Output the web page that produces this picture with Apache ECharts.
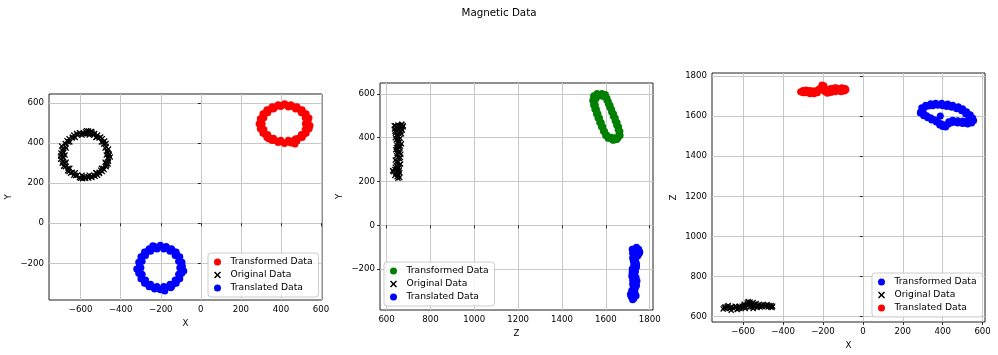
<!DOCTYPE html>
<html>
<head>
<meta charset="utf-8">
<title>Magnetic Data</title>
<script src="https://cdn.jsdelivr.net/npm/echarts@6/dist/echarts.min.js"></script>
<style>
  html, body { margin: 0; padding: 0; background: #fff; }
  #chart { width: 998px; height: 355px; }
</style>
</head>
<body>
<div id="chart"></div>
<script>
// ---- data ----
// panel 1: X (horizontal) vs Y (vertical)
const xyTransformed = [
  [532,500],[540,525],[526,546],[506,566],[480,581],[450,591],[418,596],[386,591],[356,581],[330,566],
  [310,546],[297,522],[291,497],[297,472],[310,449],[330,428],[356,413],[386,403],[418,398],[450,401],
  [480,411],[506,428],[526,449],[541,472],
  [522,497],[521,526],[502,551],[473,570],[437,580],[399,582],[363,570],[334,551],[315,526],[306,497],
  [315,468],[334,443],[363,424],[399,414],[437,414],[473,422],[502,443],[521,468],
  [535,509],[527,532],[512,552],[490,569],[463,581],[433,587],[403,587],[373,581],[346,569],[324,552],
  [309,532],[301,509],[301,485],[309,462],[324,442],[346,425],[373,413],[403,407],[433,407],[463,413],
  [490,425],[512,442],[527,462],[535,485],
  [392,588],[545,488],[470,396],[300,510],[425,590],[340,420]
];
const xyOriginal = [
  [-457,340],[-461,370],[-473,398],[-492,422],[-516,440],[-544,452],[-575,456],[-606,452],[-634,440],[-658,422],
  [-677,398],[-689,370],[-693,340],[-689,310],[-677,282],[-658,258],[-634,240],[-606,228],[-575,224],[-544,228],
  [-516,240],[-492,258],[-473,282],[-461,310],
  [-472,340],[-478,375],[-496,406],[-524,428],[-557,440],[-593,440],[-627,428],[-654,406],[-672,375],[-678,340],
  [-672,305],[-654,274],[-627,252],[-593,240],[-557,240],[-524,252],[-496,274],[-478,305],
  [-466,354],[-473,382],[-488,406],[-508,426],[-533,441],[-561,448],[-589,448],[-617,441],[-642,426],[-662,406],
  [-677,382],[-684,354],[-684,326],[-677,298],[-662,274],[-642,254],[-617,239],[-589,232],[-561,232],[-533,239],
  [-508,254],[-488,274],[-473,298],[-466,326],
  [-565,448],[-550,455],[-540,445],[-585,448],[-560,460],[-462,325],[-468,300],[-700,335],[-580,230],[-520,250],
  [-690,360],[-465,350],[-485,395],[-520,430],[-600,445],[-640,430],[-680,300],[-650,250],[-600,225],[-545,235],
  [-500,265],[-470,290],[-575,445],[-555,450],[-530,448],[-700,320],[-468,360],
  [-452,330],[-458,345],[-480,410],[-500,430],[-545,458],[-570,462],[-620,448],[-668,412],[-695,385],[-698,350],
  [-692,300],[-685,285],[-665,262],[-625,238],[-590,222],[-560,226],[-528,234],[-505,248],[-483,268],[-463,296]
];
const xyTranslated = [
  [-85,-238],[-94,-194],[-105,-167],[-123,-144],[-146,-127],[-173,-116],[-202,-110],[-231,-116],[-258,-127],[-281,-144],
  [-299,-167],[-310,-194],[-316,-230],[-310,-250],[-299,-277],[-281,-300],[-258,-317],[-231,-328],[-202,-332],[-180,-338],
  [-146,-317],[-123,-300],[-105,-277],[-92,-215],
  [-105,-222],[-111,-190],[-128,-161],[-154,-140],[-185,-128],[-219,-128],[-251,-140],[-276,-161],[-293,-190],[-299,-222],
  [-293,-254],[-276,-283],[-251,-304],[-219,-316],[-185,-316],[-154,-304],[-128,-283],[-111,-254],
  [-98,-209],[-105,-183],[-119,-159],[-138,-140],[-162,-127],[-188,-120],[-216,-120],[-242,-127],[-266,-140],[-285,-159],
  [-299,-183],[-306,-209],[-306,-235],[-299,-261],[-285,-285],[-266,-304],[-242,-317],[-216,-324],[-188,-324],[-162,-317],
  [-138,-304],[-119,-285],[-105,-261],[-98,-235],
  [-320,-228],[-95,-250],[-240,-112],[-150,-322]
];

// panel 2: Z (horizontal) vs Y (vertical)
const zyTransformed = [
  [1546,590],[1548,570],[1552,550],[1557,530],[1564,510],[1571,490],[1579,470],[1586,450],[1594,430],[1604,412],
  [1618,398],[1638,390],[1656,400],[1660,418],[1656,438],[1649,458],[1642,478],[1634,498],[1626,518],[1618,538],
  [1611,555],[1604,572],[1597,588],[1582,596],[1565,596],
  [1545,580],[1560,588],[1575,592],[1588,588],[1555,578],[1642,400],[1625,402],[1650,392],[1632,388],
  [1540,570],[1544,550],[1550,530],[1557,510],[1564,490],[1572,470],[1580,450],[1589,430],[1599,410],[1610,398],
  [1665,410],[1664,430],[1658,450],[1651,470],[1643,490],[1635,510],[1626,530],[1619,548],[1611,565],[1605,582],
  [1598,598],[1582,602],[1560,602],[1545,592]
];
const zyOriginal = [
  [640,455],[652,458],[664,455],[675,450],[636,440],[648,445],[660,440],[672,435],[642,425],[655,420],
  [668,418],[650,405],[662,398],[644,390],[657,380],[668,372],[648,365],[660,355],[642,345],[655,335],
  [665,325],[646,318],[658,305],[640,298],[652,288],[664,280],[645,272],[656,262],[638,255],[628,250],
  [650,248],[660,240],[642,235],[655,228],[648,222],[660,218],[652,232],[645,410],[670,462],[635,455],
  [645,450],[658,452],[668,445],[638,430],[652,432],[665,428],[650,412],[640,400],[656,390],[650,375],
  [663,362],[645,355],[652,345],[660,332],[648,328],[652,312],[663,310],[645,290],[658,275],[650,260],
  [640,265],[645,243],[657,250],[638,228],[652,215],[630,245],[662,448],[676,455],[668,460]
];
const zyTranslated = [
  [1720,-110],[1735,-105],[1750,-110],[1755,-122],[1740,-125],[1722,-128],[1730,-145],[1745,-140],[1725,-162],[1738,-170],
  [1728,-185],[1720,-200],[1735,-210],[1726,-228],[1738,-238],[1722,-250],[1732,-262],[1740,-275],[1725,-282],[1718,-298],
  [1732,-300],[1712,-315],[1725,-318],[1738,-322],[1728,-335],[1720,-330],[1742,-255],[1718,-232],[1740,-190],[1730,-120],
  [1728,-115],[1745,-118],[1735,-135],[1722,-150],[1735,-155],[1728,-175],[1740,-180],[1725,-195],[1732,-220],[1720,-215],
  [1730,-245],[1735,-285],[1722,-268],[1728,-290],[1715,-325],[1733,-310],[1722,-340],[1740,-100],[1752,-130],[1718,-308]
];

// panel 3: X (horizontal) vs Z (vertical)
const xzTransformed = [
  [300,1630],[310,1644],[330,1650],[350,1652],[375,1654],[400,1652],[420,1648],[445,1644],[470,1637],[495,1627],
  [515,1612],[530,1597],[545,1582],
  [540,1572],[520,1573],[500,1575],[475,1577],[450,1579],[430,1572],[410,1556],[395,1560],[380,1568],[360,1582],
  [340,1592],[320,1602],[305,1613],[388,1600],[290,1622],[405,1548],
  [295,1642],[315,1654],[340,1662],[365,1664],[395,1664],[425,1660],[450,1654],[478,1647],[500,1637],[520,1622],
  [538,1607],[550,1590],
  [545,1565],[525,1561],[500,1563],[475,1566],[450,1568],[430,1560],[415,1546],[400,1548],[385,1556],[368,1570],
  [345,1580],[325,1592],[305,1602],[288,1615],[555,1578],[548,1575]
];
const xzOriginal = [
  [-695,645],[-680,650],[-670,640],[-655,648],[-640,652],[-625,640],[-610,645],[-595,655],[-580,660],[-570,668],
  [-560,655],[-545,650],[-535,665],[-520,660],[-505,650],[-490,655],[-475,648],[-460,655],[-700,638],[-660,632],
  [-620,650],[-590,640],[-565,648],[-550,640],[-530,645],[-510,658],[-480,660],[-455,645],[-575,675],[-600,648],
  [-690,648],[-685,640],[-675,655],[-662,645],[-648,640],[-635,648],[-618,642],[-605,652],[-588,648],[-575,655],
  [-568,660],[-555,648],[-542,658],[-528,652],[-515,648],[-498,660],[-485,650],[-470,655],[-462,648],[-452,652],
  [-580,668],[-565,672],[-545,662],[-630,635],[-595,662],[-550,670]
];
const xzTranslated = [
  [-312,1722],[-300,1728],[-290,1716],[-278,1724],[-265,1712],[-252,1720],[-240,1726],[-228,1716],[-215,1730],[-205,1748],
  [-198,1738],[-190,1722],[-178,1714],[-168,1732],[-155,1725],[-142,1740],[-130,1728],[-118,1735],[-105,1742],[-95,1730],
  [-88,1738],[-300,1716],[-270,1728],[-245,1712],[-220,1735],[-195,1752],[-160,1718],[-135,1742],[-110,1722],[-85,1732],
  [-305,1720],[-285,1730],[-275,1718],[-258,1726],[-248,1716],[-235,1720],[-222,1728],[-210,1738],[-200,1745],[-185,1730],
  [-172,1725],[-162,1738],[-150,1730],[-138,1722],[-125,1738],[-112,1730],[-100,1735],[-92,1725],[-205,1755]
];

// tick labels
const ticksX1 = [-600, -400, -200, 0, 200, 400, 600];
const ticksY1 = [-200, 0, 200, 400, 600];
const ticksX2 = [600, 800, 1000, 1200, 1400, 1600, 1800];
const ticksY2 = [-200, 0, 200, 400, 600];
const ticksX3 = [-600, -400, -200, 0, 200, 400, 600];
const ticksY3 = [600, 800, 1000, 1200, 1400, 1600, 1800];

const legendNames = ['Transformed Data', 'Original Data', 'Translated Data'];

const FONT = 'DejaVu Sans';
const CROSS = 'path://M0,1.5L1.5,0L5,3.5L8.5,0L10,1.5L6.5,5L10,8.5L8.5,10L5,6.5L1.5,10L0,8.5L3.5,5Z';

const minus = v => String(v).replace('-', '\u2212');

function makeAxis(idx, min, max, ticks, name, isY, gap) {
  return {
    type: 'value',
    gridIndex: idx,
    min, max,
    name,
    nameLocation: 'middle',
    nameGap: gap,
    nameRotate: isY ? 90 : 0,
    nameTextStyle: { fontFamily: FONT, fontSize: 8.6, color: '#000' },
    axisLine: { show: false },
    axisTick: { show: true, length: 3, customValues: ticks, lineStyle: { color: '#000', width: 0.8 } },
    axisLabel: {
      customValues: ticks, margin: 5, fontFamily: FONT, fontSize: 8.6, color: '#000',
      formatter: minus
    },
    splitLine: { show: true, lineStyle: { color: '#c8c8c8', width: 1 } }
  };
}

function scatter(name, data, idx, color, symbol) {
  return {
    name, type: 'scatter', xAxisIndex: idx, yAxisIndex: idx,
    data, symbol, symbolSize: symbol === 'circle' ? 7 : 6,
    itemStyle: { color, opacity: 1 },
    emphasis: { disabled: true }
  };
}

function legend(idx, left, top) {
  return {
    left, top,
    orient: 'vertical',
    padding: [4, 6, 4, 6],
    itemGap: 3,
    itemWidth: 16,
    itemHeight: 7,
    backgroundColor: 'rgba(255,255,255,0.8)',
    borderColor: '#cccccc',
    borderWidth: 1,
    borderRadius: 3,
    textStyle: { fontFamily: FONT, fontSize: 9.2, color: '#000', lineHeight: 10 },
    formatter: n => n.split('|')[0],
    data: legendNames.map((n, i) => ({ name: n + '|' + idx, icon: i === 1 ? CROSS : 'circle' })),
    selectedMode: false
  };
}

const chart = echarts.init(document.getElementById('chart'), null, { renderer: 'canvas' });

chart.setOption({
  animation: false,
  backgroundColor: '#fff',
  title: {
    text: 'Magnetic Data', left: 'center', top: 3,
    textStyle: { fontFamily: FONT, fontSize: 10.3, fontWeight: 'normal', color: '#000' }
  },
  grid: [
    { left: 49, top: 94, width: 273, height: 206, show: true, borderColor: '#222', borderWidth: 1 },
    { left: 380, top: 83, width: 273, height: 227, show: true, borderColor: '#222', borderWidth: 1 },
    { left: 712, top: 73, width: 273, height: 249, show: true, borderColor: '#222', borderWidth: 1 }
  ],
  xAxis: [
    makeAxis(0, -758, 605, ticksX1, 'X', false, 17),
    makeAxis(1, 570, 1815, ticksX2, 'Z', false, 17),
    makeAxis(2, -756, 612, ticksX3, 'X', false, 17)
  ],
  yAxis: [
    makeAxis(0, -383, 645, ticksY1, 'Y', true, 36),
    makeAxis(1, -387, 650, ticksY2, 'Y', true, 36),
    makeAxis(2, 573, 1815, ticksY3, 'Z', true, 34)
  ],
  legend: [
    legend(0, 208, 253),
    legend(1, 384, 262),
    legend(2, 872, 273)
  ],
  series: [
    scatter('Transformed Data|0', xyTransformed, 0, '#ff0000', 'circle'),
    scatter('Original Data|0', xyOriginal, 0, '#000000', CROSS),
    scatter('Translated Data|0', xyTranslated, 0, '#0000ff', 'circle'),
    scatter('Transformed Data|1', zyTransformed, 1, '#008000', 'circle'),
    scatter('Original Data|1', zyOriginal, 1, '#000000', CROSS),
    scatter('Translated Data|1', zyTranslated, 1, '#0000ff', 'circle'),
    scatter('Transformed Data|2', xzTransformed, 2, '#0000ff', 'circle'),
    scatter('Original Data|2', xzOriginal, 2, '#000000', CROSS),
    scatter('Translated Data|2', xzTranslated, 2, '#ff0000', 'circle')
  ]
});
</script>
</body>
</html>
